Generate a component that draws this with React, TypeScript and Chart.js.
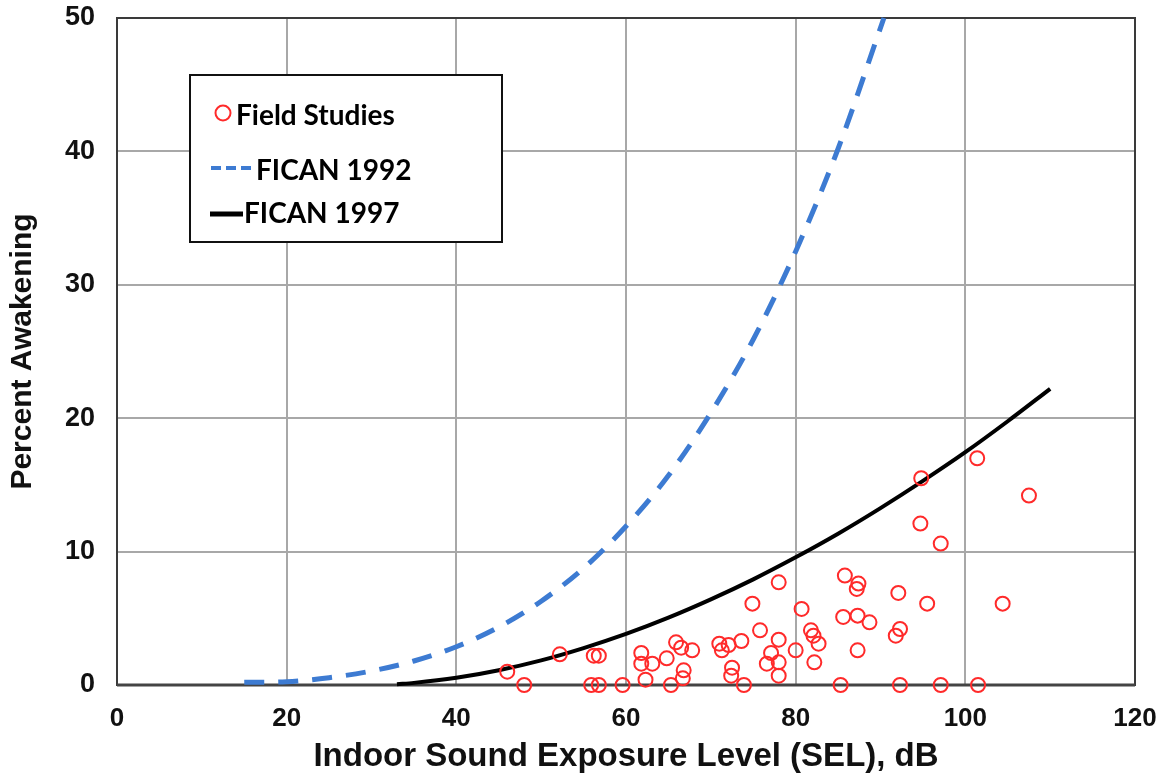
import React, { useEffect, useRef } from "react";
import { Chart, registerables } from "chart.js";

Chart.register(...registerables);

// Field studies (SEL dB, percent awakening)
const fieldSEL = [
  46, 48, 52.2, 56.2, 56.8, 55.9, 56.8, 59.6, 61.8, 61.8, 63.1, 62.3, 64.8, 65.3,
  65.9, 66.5, 67.8, 66.8, 66.7, 71, 72.1, 73.6, 71.3, 72.5, 72.4, 73.9, 74.9, 75.8,
  78, 78, 77.1, 76.6, 78, 78, 80, 80.7, 81.8, 82.1, 82.7, 82.2, 85.3, 85.8, 87.4,
  87.2, 85.6, 87.3, 88.7, 87.3, 92.1, 92.3, 91.8, 92.3, 95.5, 94.8, 101.4, 107.5,
  94.7, 97.1, 104.4, 101.5, 97.1,
];
const fieldAwake = [
  1.0, 0, 2.3, 2.2, 2.2, 0, 0, 0, 2.4, 1.6, 1.6, 0.4, 2.0, 0,
  3.2, 2.8, 2.6, 1.1, 0.5, 3.1, 3.0, 3.3, 2.6, 1.3, 0.7, 0, 6.1, 4.1,
  7.7, 3.4, 2.4, 1.6, 1.7, 0.7, 2.6, 5.7, 4.1, 3.7, 3.1, 1.7, 0, 8.2, 7.6,
  7.2, 5.1, 5.2, 4.7, 2.6, 6.9, 4.2, 3.7, 0, 6.1, 15.5, 17.0, 14.2,
  12.1, 10.6, 6.1, 0, 0,
];

// FICAN 1992 curve (dashed blue)
const fican1992SEL = [15, 20, 25, 30, 35, 40, 45, 50, 55, 60, 65, 70, 75, 80, 85, 90.4];
const fican1992Awake = [0.2, 0.25, 0.55, 1.05, 1.8, 2.87, 4.34, 6.28, 8.76, 11.9, 15.7, 20.4, 25.9, 32.5, 40.2, 50];

// FICAN 1997 curve (solid black)
const fican1997SEL = [33, 35, 40, 45, 50, 55, 60, 65, 70, 75, 80, 85, 90, 95, 100, 105, 110];
const fican1997Awake = [0.06, 0.16, 0.54, 1.11, 1.85, 2.77, 3.83, 5.05, 6.42, 7.92, 9.57, 11.34, 13.26, 15.3, 17.45, 19.77, 22.2];

const xTicks = [0, 20, 40, 60, 80, 100, 120];
const yTicks = [0, 10, 20, 30, 40, 50];
const legendLabels = ["Field Studies", "FICAN 1992", "FICAN 1997"];
const xTitle = "Indoor Sound Exposure Level (SEL), dB";
const yTitle = "Percent Awakening";

const RED = "#ff2a2a";
const BLUE = "#3d7bd2";

const framePlugin = {
  id: "frame",
  beforeDatasetsDraw(chart: any) {
    const { ctx, chartArea } = chart;
    ctx.save();
    ctx.strokeStyle = "#3a3a3a";
    ctx.lineWidth = 2;
    ctx.strokeRect(chartArea.left, chartArea.top, chartArea.right - chartArea.left, chartArea.bottom - chartArea.top);
    ctx.lineWidth = 3;
    ctx.strokeStyle = "#444";
    ctx.beginPath();
    ctx.moveTo(chartArea.left, chartArea.bottom);
    ctx.lineTo(chartArea.right, chartArea.bottom);
    ctx.stroke();
    ctx.restore();
  },
};

const legendPlugin = {
  id: "boxLegend",
  afterDraw(chart: any) {
    const { ctx } = chart;
    ctx.save();
    ctx.fillStyle = "#ffffff";
    ctx.fillRect(190, 75, 312, 167);
    ctx.strokeStyle = "#111";
    ctx.lineWidth = 2;
    ctx.strokeRect(190, 75, 312, 167);

    // Field studies marker
    ctx.strokeStyle = RED;
    ctx.lineWidth = 2;
    ctx.beginPath();
    ctx.arc(223, 113, 7.5, 0, Math.PI * 2);
    ctx.stroke();

    // FICAN 1992 dashed line
    ctx.strokeStyle = BLUE;
    ctx.lineWidth = 4;
    ctx.setLineDash([10, 5]);
    ctx.beginPath();
    ctx.moveTo(211, 168);
    ctx.lineTo(253, 168);
    ctx.stroke();
    ctx.setLineDash([]);

    // FICAN 1997 solid line
    ctx.strokeStyle = "#000";
    ctx.lineWidth = 5;
    ctx.beginPath();
    ctx.moveTo(210, 214);
    ctx.lineTo(243, 214);
    ctx.stroke();

    ctx.fillStyle = "#000";
    ctx.textBaseline = "middle";
    ctx.textAlign = "left";
    ctx.font = "bold 28px Lato, 'Liberation Sans', sans-serif";
    ctx.fillText(legendLabels[0], 236, 116);
    ctx.fillText(legendLabels[1], 256, 171);
    ctx.fillText(legendLabels[2], 244, 214);
    ctx.restore();
  },
};

export default function App() {
  const canvasRef = useRef<HTMLCanvasElement | null>(null);

  useEffect(() => {
    document.body.style.margin = "0";
    const canvas = canvasRef.current;
    if (!canvas) return;

    const fieldPoints = fieldSEL.map((x, i) => ({ x, y: fieldAwake[i] }));
    const p1992 = fican1992SEL.map((x, i) => ({ x, y: fican1992Awake[i] }));
    const p1997 = fican1997SEL.map((x, i) => ({ x, y: fican1997Awake[i] }));

    const chart = new Chart(canvas, {
      type: "scatter",
      data: {
        datasets: [
          {
            label: legendLabels[1],
            data: p1992,
            showLine: true,
            borderColor: BLUE,
            borderWidth: 5,
            borderDash: [20, 14],
            pointRadius: 0,
            cubicInterpolationMode: "monotone",
            fill: false,
            clip: false,
            order: 2,
          } as any,
          {
            label: legendLabels[2],
            data: p1997,
            showLine: true,
            borderColor: "#000",
            borderWidth: 4,
            pointRadius: 0,
            cubicInterpolationMode: "monotone",
            fill: false,
            clip: false,
            order: 1,
          } as any,
          {
            label: legendLabels[0],
            data: fieldPoints,
            pointStyle: "circle",
            pointRadius: 7,
            pointBorderWidth: 2,
            borderColor: RED,
            backgroundColor: "rgba(255,255,255,0)",
            pointBackgroundColor: "rgba(255,255,255,0)",
            pointBorderColor: RED,
            clip: false,
            order: 0,
          } as any,
        ],
      },
      options: {
        responsive: false,
        animation: false,
        layout: { padding: { top: 18, right: 33, left: 0, bottom: 0 } },
        plugins: {
          legend: { display: false },
          tooltip: { enabled: false },
        },
        scales: {
          x: {
            type: "linear",
            min: 0,
            max: 120,
            afterFit: (s: any) => {
              s.height = 89;
              s.paddingLeft = 0;
              s.paddingRight = 0;
            },
            afterBuildTicks: (s: any) => {
              s.ticks = xTicks.map((v) => ({ value: v }));
            },
            grid: { color: "#a8a8a8", lineWidth: 2, drawTicks: false },
            border: { display: false },
            ticks: {
              padding: 18,
              color: "#111",
              font: { family: "'Liberation Sans', Arial, sans-serif", size: 26, weight: "bold" },
            },
            title: {
              display: true,
              text: xTitle,
              color: "#111",
              padding: { top: 0, bottom: 1 },
              font: { family: "'Liberation Sans', Arial, sans-serif", size: 33, weight: "bold", lineHeight: 1 },
            },
          },
          y: {
            type: "linear",
            min: 0,
            max: 50,
            afterFit: (s: any) => {
              s.width = 117;
              s.paddingTop = 0;
              s.paddingBottom = 0;
            },
            afterBuildTicks: (s: any) => {
              s.ticks = yTicks.map((v) => ({ value: v }));
            },
            grid: { color: "#a8a8a8", lineWidth: 2, drawTicks: false },
            border: { display: false },
            ticks: {
              padding: 22,
              color: "#111",
              font: { family: "'Liberation Sans', Arial, sans-serif", size: 27, weight: "bold" },
            },
            title: {
              display: true,
              text: yTitle,
              color: "#111",
              padding: { top: 8, bottom: 0 },
              font: { family: "'Liberation Sans', Arial, sans-serif", size: 30, weight: "bold", lineHeight: 1 },
            },
          },
        },
      },
      plugins: [framePlugin, legendPlugin],
    });

    return () => {
      chart.destroy();
    };
  }, []);

  return (
    <div style={{ width: 1168, height: 774, background: "#fff" }}>
      <canvas ref={canvasRef} width={1168} height={774} style={{ display: "block" }} />
    </div>
  );
}
